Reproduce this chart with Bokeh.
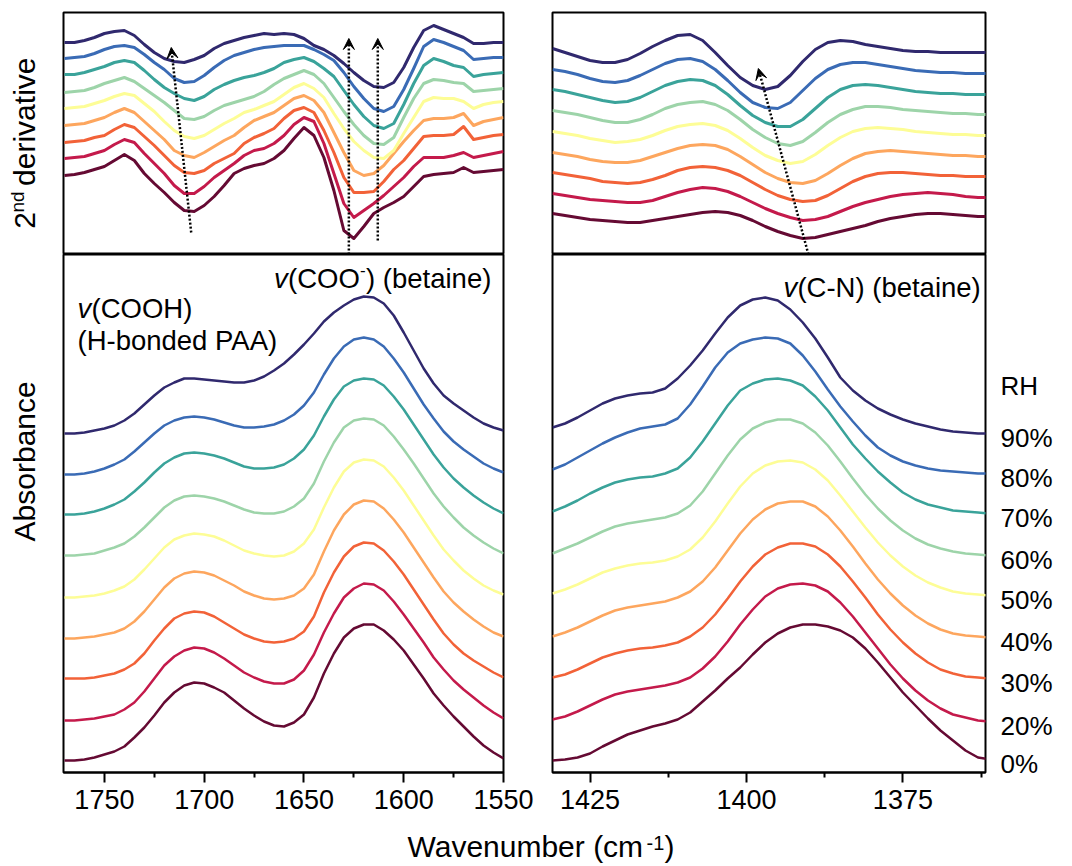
import math
from bokeh.plotting import figure
from bokeh.layouts import column, row
from bokeh.models import Range1d, FixedTicker, Arrow, VeeHead, LinearAxis, Label
from bokeh.embed import file_html
from bokeh.resources import INLINE
from bokeh.core.properties import value

FONT = "Liberation Sans"

RH_LABELS = ["0%", "20%", "30%", "40%", "50%", "60%", "70%", "80%", "90%"]
COLORS = ["#650a33", "#c41a4b", "#f26238", "#fda65e", "#fdfd96",
          "#9dd4a9", "#3aa39a", "#3a6bb5", "#30296e"]

# wavenumber grids (cm-1)
WN_LEFT = list(range(1770, 1549, -5))    # 1770 ... 1550
WN_RIGHT = list(range(1431, 1360, -2))   # 1431 ... 1361

# ---- 2nd derivative, 1770-1550 cm-1 (arb. units, stacked) ----
d2l_0 = [79, 80, 82, 85, 88, 94, 100, 94, 81, 71, 62, 52, 44, 43, 49, 58, 69, 81, 86, 89, 91, 96, 104, 116, 127, 119, 97, 64, 24, 16, 28, 41, 47, 52, 58, 68, 78, 80, 81, 82, 87, 82, 83, 84, 85]
d2l_20 = [96, 97, 98, 101, 104, 110, 115, 112, 101, 91, 81, 69, 61, 61, 68, 77, 84, 91, 99, 104, 106, 111, 119, 130, 137, 133, 111, 81, 51, 37, 44, 51, 59, 68, 77, 88, 97, 97, 97, 99, 102, 97, 99, 101, 103]
d2l_30 = [112, 113, 114, 117, 119, 125, 130, 127, 118, 109, 99, 89, 82, 81, 84, 91, 96, 101, 111, 117, 121, 126, 136, 144, 147, 142, 124, 102, 77, 62, 62, 63, 73, 85, 94, 106, 118, 119, 119, 120, 128, 115, 117, 119, 120]
d2l_40 = [129, 130, 131, 134, 137, 142, 146, 142, 133, 124, 115, 104, 99, 97, 102, 108, 114, 119, 127, 134, 138, 142, 149, 156, 159, 154, 142, 122, 102, 84, 79, 81, 89, 101, 113, 124, 134, 136, 136, 137, 141, 129, 133, 135, 137]
d2l_50 = [146, 147, 148, 151, 154, 158, 161, 159, 151, 143, 133, 124, 118, 116, 119, 125, 131, 136, 142, 145, 149, 153, 160, 167, 171, 166, 157, 141, 126, 113, 104, 97, 96, 104, 121, 137, 153, 157, 156, 156, 153, 146, 150, 152, 153]
d2l_60 = [162, 163, 164, 167, 171, 174, 177, 173, 166, 159, 152, 144, 136, 135, 138, 144, 149, 152, 155, 158, 163, 170, 176, 180, 184, 180, 171, 157, 143, 130, 119, 111, 110, 117, 137, 156, 171, 175, 174, 172, 171, 163, 164, 165, 166]
d2l_70 = [180, 180, 182, 185, 188, 192, 194, 192, 184, 175, 167, 161, 156, 154, 158, 165, 170, 174, 177, 179, 182, 186, 192, 195, 197, 193, 186, 178, 164, 150, 138, 129, 126, 131, 150, 171, 189, 196, 193, 189, 187, 178, 180, 181, 182]
d2l_80 = [196, 197, 198, 201, 205, 208, 209, 207, 200, 192, 185, 176, 172, 173, 179, 187, 194, 199, 202, 205, 207, 208, 209, 209, 209, 205, 200, 194, 182, 168, 156, 146, 143, 148, 165, 186, 208, 215, 212, 208, 204, 195, 196, 197, 197]
d2l_90 = [212, 212, 214, 217, 221, 223, 224, 219, 210, 202, 196, 193, 192, 195, 199, 206, 211, 214, 217, 219, 221, 220, 221, 220, 216, 209, 205, 199, 191, 182, 174, 168, 167, 172, 187, 207, 224, 229, 225, 221, 217, 211, 211, 212, 212]

# ---- 2nd derivative, 1431-1361 cm-1 ----
d2r_0 = [41, 39, 37, 35, 34, 33, 32, 32, 34, 36, 38, 40, 42, 43, 42, 39, 34, 28, 23, 19, 16, 17, 20, 23, 26, 29, 33, 36, 38, 40, 41, 41, 40, 39, 38, 38]
d2r_20 = [61, 59, 57, 55, 54, 53, 52, 52, 54, 58, 62, 65, 67, 66, 63, 58, 52, 46, 41, 37, 34, 35, 38, 43, 48, 52, 55, 58, 60, 61, 62, 61, 60, 58, 57, 57]
d2r_30 = [82, 80, 78, 76, 73, 72, 71, 72, 75, 79, 84, 87, 88, 87, 84, 79, 72, 65, 59, 55, 53, 54, 59, 66, 73, 78, 81, 82, 82, 81, 80, 79, 79, 78, 78, 78]
d2r_40 = [102, 100, 98, 95, 93, 92, 92, 94, 98, 102, 106, 109, 110, 109, 105, 98, 90, 82, 76, 72, 71, 74, 81, 89, 96, 101, 103, 104, 103, 102, 101, 100, 99, 99, 98, 98]
d2r_50 = [123, 121, 119, 116, 114, 112, 113, 115, 119, 124, 128, 130, 131, 129, 124, 116, 107, 99, 94, 91, 93, 100, 109, 117, 123, 126, 127, 126, 125, 123, 122, 121, 120, 120, 119, 119]
d2r_60 = [144, 142, 140, 137, 134, 132, 132, 135, 140, 146, 150, 152, 153, 150, 144, 135, 125, 117, 111, 109, 113, 122, 132, 140, 145, 148, 148, 147, 145, 144, 143, 142, 141, 141, 140, 140]
d2r_70 = [165, 163, 160, 157, 154, 152, 153, 157, 163, 169, 173, 175, 174, 169, 160, 149, 139, 132, 128, 128, 135, 146, 157, 165, 169, 170, 169, 167, 165, 163, 162, 161, 161, 160, 160, 160]
d2r_80 = [185, 183, 180, 176, 173, 172, 174, 179, 185, 191, 195, 196, 193, 185, 174, 162, 152, 147, 146, 152, 164, 176, 185, 190, 192, 192, 190, 188, 186, 184, 183, 182, 182, 181, 181, 181]
d2r_90 = [206, 202, 198, 194, 192, 192, 195, 201, 208, 214, 219, 220, 214, 202, 189, 177, 169, 165, 168, 179, 193, 205, 212, 214, 213, 210, 208, 206, 204, 203, 203, 202, 202, 202, 202, 202]

# ---- absorbance, 1770-1550 cm-1 (relative to each spectrum's start) ----
absl_0 = [0, 0, 1, 3, 6, 9, 14, 23, 33, 45, 58, 68, 75, 78, 77, 73, 68, 60, 52, 45, 39, 35, 34, 38, 46, 63, 87, 107, 123, 132, 136, 136, 130, 121, 110, 96, 82, 67, 55, 44, 34, 24, 15, 8, 2]
absl_20 = [0, 0, 1, 2, 4, 6, 11, 18, 29, 42, 55, 64, 70, 73, 72, 68, 62, 55, 48, 43, 39, 37, 37, 41, 50, 66, 88, 107, 123, 132, 137, 136, 130, 119, 106, 92, 78, 63, 51, 40, 31, 23, 15, 8, 2]
absl_30 = [0, 0, 0, 1, 3, 5, 9, 15, 25, 38, 50, 60, 65, 67, 66, 62, 56, 50, 44, 40, 37, 36, 37, 40, 47, 62, 86, 106, 122, 132, 136, 135, 128, 117, 104, 89, 74, 59, 45, 34, 25, 18, 12, 6, 1]
absl_40 = [0, 0, 1, 2, 4, 6, 10, 17, 27, 39, 51, 60, 65, 67, 66, 63, 58, 53, 47, 43, 40, 39, 40, 43, 50, 64, 87, 108, 124, 134, 138, 137, 130, 119, 106, 91, 76, 61, 47, 36, 27, 19, 12, 6, 2]
absl_50 = [0, 0, 1, 2, 4, 7, 11, 18, 28, 39, 50, 58, 62, 64, 63, 61, 57, 52, 47, 44, 42, 41, 42, 46, 54, 68, 90, 110, 126, 135, 138, 137, 131, 120, 107, 92, 77, 62, 48, 37, 27, 19, 12, 7, 3]
absl_60 = [0, 0, 1, 2, 5, 8, 12, 19, 28, 38, 48, 55, 59, 60, 59, 57, 54, 50, 46, 43, 42, 42, 44, 49, 57, 72, 94, 113, 128, 135, 137, 136, 130, 119, 106, 92, 77, 62, 49, 38, 28, 20, 13, 7, 2]
absl_70 = [0, 0, 1, 3, 6, 10, 15, 23, 32, 42, 51, 57, 61, 62, 61, 59, 56, 52, 48, 46, 46, 47, 50, 56, 65, 79, 98, 115, 128, 134, 136, 135, 129, 118, 105, 90, 75, 60, 47, 36, 27, 19, 12, 6, 1]
absl_80 = [0, 0, 1, 3, 6, 10, 15, 23, 32, 41, 49, 54, 57, 58, 57, 55, 52, 49, 47, 47, 48, 50, 54, 60, 69, 82, 100, 116, 128, 135, 137, 135, 128, 116, 102, 86, 70, 56, 43, 33, 25, 18, 11, 6, 2]
absl_90 = [0, 0, 1, 3, 5, 8, 13, 20, 29, 38, 46, 51, 55, 55, 54, 53, 52, 51, 51, 53, 57, 63, 70, 79, 89, 100, 112, 121, 128, 134, 137, 136, 130, 118, 101, 83, 65, 50, 38, 30, 23, 16, 10, 6, 3]

# ---- absorbance, 1431-1361 cm-1 (relative to each spectrum's start) ----
absr_0 = [0, 1, 3, 7, 14, 20, 26, 30, 34, 37, 41, 48, 59, 70, 82, 93, 106, 118, 127, 133, 136, 136, 134, 130, 123, 112, 98, 83, 68, 55, 42, 30, 20, 10, 3, 1]
absr_20 = [0, 3, 8, 14, 20, 25, 28, 30, 32, 34, 37, 42, 51, 63, 78, 95, 110, 123, 131, 135, 136, 134, 128, 117, 103, 87, 71, 55, 41, 29, 19, 11, 5, 2, -1, -2]
absr_30 = [0, 3, 8, 14, 20, 24, 27, 29, 30, 32, 35, 41, 50, 63, 79, 96, 111, 123, 130, 134, 134, 131, 123, 111, 96, 80, 63, 48, 35, 24, 15, 8, 4, 1, 0, -1]
absr_40 = [0, 4, 9, 15, 21, 26, 29, 31, 33, 35, 39, 45, 55, 69, 86, 103, 117, 127, 133, 135, 135, 130, 120, 106, 90, 73, 57, 43, 31, 21, 13, 7, 3, 1, 0, -1]
absr_50 = [0, 4, 9, 15, 21, 25, 28, 30, 31, 33, 37, 44, 56, 72, 90, 107, 120, 128, 132, 133, 131, 124, 113, 98, 82, 66, 51, 38, 27, 18, 11, 6, 2, 0, -1, -2]
absr_60 = [0, 5, 10, 16, 22, 27, 30, 32, 34, 36, 40, 48, 62, 80, 98, 114, 125, 131, 134, 134, 130, 121, 108, 92, 75, 59, 45, 33, 23, 15, 9, 5, 2, 0, -1, -2]
absr_70 = [0, 5, 11, 18, 24, 29, 32, 34, 35, 38, 43, 54, 70, 88, 106, 121, 128, 132, 133, 131, 126, 115, 101, 84, 67, 53, 40, 29, 19, 12, 7, 4, 1, 0, -1, -2]
absr_80 = [0, 5, 12, 19, 26, 32, 37, 41, 43, 45, 51, 65, 83, 102, 117, 126, 130, 132, 131, 126, 114, 98, 80, 63, 48, 34, 22, 14, 8, 4, 1, -1, -2, -3, -4, -4]
absr_90 = [0, 4, 10, 17, 24, 29, 32, 34, 35, 39, 49, 62, 77, 94, 110, 122, 128, 130, 127, 118, 105, 89, 70, 50, 37, 27, 19, 13, 8, 4, 1, -2, -4, -5, -6, -6]

# stacking offsets of the absorbance spectra
OFFSET_LEFT = [12, 52, 94, 134, 175, 217, 258, 298, 339]
OFFSET_RIGHT = [12, 53, 95, 136, 179, 219, 261, 303, 345]

# tick labels
TICKS_LEFT = [1750, 1700, 1650, 1600, 1550]
MINOR_LEFT = [1725, 1675, 1625, 1575]
TICKS_RIGHT = [1425, 1400, 1375]
MINOR_RIGHT = [1412.5, 1387.5, 1362.5]

# dotted guide arrows (x0, y0, x1, y1)
ARROWS_TL = [(1706.5, 22, 1716.5, 207), (1627.5, 0, 1627.5, 216), (1613, 14, 1613, 216)]
ARROWS_TR = [(1390.1, 0, 1398.1, 186)]

D2L = [d2l_0, d2l_20, d2l_30, d2l_40, d2l_50, d2l_60, d2l_70, d2l_80, d2l_90]
D2R = [d2r_0, d2r_20, d2r_30, d2r_40, d2r_50, d2r_60, d2r_70, d2r_80, d2r_90]
ABSL = [absl_0, absl_20, absl_30, absl_40, absl_50, absl_60, absl_70, absl_80, absl_90]
ABSR = [absr_0, absr_20, absr_30, absr_40, absr_50, absr_60, absr_70, absr_80, absr_90]

XL = (1770.5, 1550)
XR = (1431, 1361.8)


def make_fig(w, h, xr, yr, bl, br, bt, bb, outline=True):
    p = figure(width=w, height=h, x_range=Range1d(*xr), y_range=Range1d(*yr),
               output_backend="svg", toolbar_location=None,
               x_axis_location=None, y_axis_location=None,
               min_border_left=bl, min_border_right=br,
               min_border_top=bt, min_border_bottom=bb)
    p.outline_line_color = "black" if outline else None
    p.outline_line_width = 2
    p.background_fill_color = "white"
    p.border_fill_color = "white"
    for g in p.grid:
        g.visible = False
    return p


def style_axis(ax, size):
    ax.major_label_text_font = FONT
    ax.major_label_text_font_size = size
    ax.major_label_text_color = "black"


def add_axis(p, ticks, minor):
    ax = LinearAxis(ticker=FixedTicker(ticks=ticks, minor_ticks=minor))
    style_axis(ax, "27px")
    ax.major_tick_out = 10
    ax.major_tick_in = 0
    ax.minor_tick_out = 5
    ax.minor_tick_in = 0
    ax.major_tick_line_width = 2
    ax.minor_tick_line_width = 2
    ax.axis_line_width = 2
    ax.major_label_standoff = 7
    p.add_layout(ax, "below")


def lab(p, x, y, text, size, **kw):
    p.add_layout(Label(x=x, y=y, text=text, text_font=FONT, text_font_size=size,
                       text_color="black", **kw))


def txt(p, x, y, text, size, **kw):
    p.text(x=[x], y=[y], text=[text], text_font=value(FONT), text_font_size=size,
           text_color="black", **kw)


def arrows(p, lst):
    for (x0, y0, x1, y1) in lst:
        p.add_layout(Arrow(x_start=x0, y_start=y0, x_end=x1, y_end=y1,
                           line_color="black", line_width=2.5, line_dash="2 2",
                           end=VeeHead(size=11, fill_color="black", line_color="black",
                                       line_width=1)))


YL_W, LW_W, RW_W = 61, 474, 530
TOP_H, BOT_H, TITLE_H = 254, 566, 46

# y-label strips (pixel units)
p_yl1 = make_fig(YL_W, TOP_H, (0, YL_W), (0, TOP_H), 0, 0, 0, 0, outline=False)
txt(p_yl1, 24, 27, "2", "30px", angle=math.pi / 2, text_align="left", text_baseline="middle")
txt(p_yl1, 17, 44, "nd", "19px", angle=math.pi / 2, text_align="left", text_baseline="middle")
txt(p_yl1, 24, 72, "derivative", "30px", angle=math.pi / 2, text_align="left", text_baseline="middle")

p_yl2 = make_fig(YL_W, BOT_H, (0, YL_W), (0, BOT_H), 0, 0, 0, 0, outline=False)
txt(p_yl2, 24, 340, "Absorbance", "30px", angle=math.pi / 2, text_align="center", text_baseline="middle")

# top-left
p_tl = make_fig(LW_W, TOP_H, XL, (0, 242), 2, 32, 12, 0)
for ys, c in zip(D2L, COLORS):
    p_tl.line(WN_LEFT, ys, line_color=c, line_width=3, line_join="round")
arrows(p_tl, ARROWS_TL)

# top-right
p_tr = make_fig(RW_W, TOP_H, XR, (0, 242), 17, 80, 12, 0)
for ys, c in zip(D2R, COLORS):
    p_tr.line(WN_RIGHT, ys, line_color=c, line_width=3, line_join="round")
arrows(p_tr, ARROWS_TR)

# bottom-left
p_bl = make_fig(LW_W, BOT_H, XL, (0, 518), 2, 32, 0, 48)
add_axis(p_bl, TICKS_LEFT, MINOR_LEFT)
for ys, off, c in zip(ABSL, OFFSET_LEFT, COLORS):
    p_bl.line(WN_LEFT, [v + off for v in ys], line_color=c, line_width=2.5, line_join="round")
lab(p_bl, 1763.5, 464, "v", "27.5px", text_font_style="italic", text_baseline="middle")
lab(p_bl, 1763.5, 464, "(COOH)", "27.5px", x_offset=14, text_baseline="middle")
lab(p_bl, 1763.5, 432, "(H-bonded PAA)", "27.5px", text_baseline="middle")
lab(p_bl, 1665, 494, "v", "27.5px", text_font_style="italic", text_baseline="middle")
lab(p_bl, 1665, 494, "(COO", "27.5px", x_offset=14, text_baseline="middle")
lab(p_bl, 1665, 494, "-", "17px", x_offset=86, y_offset=9, text_baseline="middle")
lab(p_bl, 1665, 494, ") (betaine)", "27.5px", x_offset=92, text_baseline="middle")

# bottom-right
p_br = make_fig(RW_W, BOT_H, XR, (0, 518), 17, 80, 0, 48)
add_axis(p_br, TICKS_RIGHT, MINOR_RIGHT)
for ys, off, c in zip(ABSR, OFFSET_RIGHT, COLORS):
    p_br.line(WN_RIGHT, [v + off for v in ys], line_color=c, line_width=2.5, line_join="round")
lab(p_br, 1394.1, 485, "v", "27.5px", text_font_style="italic", text_baseline="middle")
lab(p_br, 1394.1, 485, "(C-N) (betaine)", "27.5px", x_offset=14, text_baseline="middle")

# RH legend as a right axis whose ticks sit at each spectrum's end
rh_ticks = [float(ys[-1] + off - 4) for ys, off in zip(ABSR, OFFSET_RIGHT)]
rh_top = rh_ticks[-1] + 52.0
rax = LinearAxis(ticker=FixedTicker(ticks=rh_ticks + [rh_top], minor_ticks=[]))
overrides = {t: s for t, s in zip(rh_ticks, RH_LABELS)}
overrides[rh_top] = "RH"
rax.major_label_overrides = overrides
style_axis(rax, "26px")
rax.axis_line_color = None
rax.major_tick_line_color = None
rax.minor_tick_line_color = None
rax.major_tick_out = 0
rax.major_tick_in = 0
rax.major_label_standoff = 15
p_br.add_layout(rax, "right")

# x-axis title strip (pixel units)
TW = YL_W + LW_W + RW_W
p_t = make_fig(TW, TITLE_H, (0, TW), (0, TITLE_H), 0, 0, 0, 0, outline=False)
txt(p_t, 407, 20, "Wavenumber (cm", "30px", text_baseline="middle", text_align="left")
txt(p_t, 646, 24, "-1", "20px", text_baseline="middle", text_align="left")
txt(p_t, 664, 20, ")", "30px", text_baseline="middle", text_align="left")

layout = column(row(p_yl1, p_tl, p_tr), row(p_yl2, p_bl, p_br), p_t)
open("out.html", "w").write(file_html(layout, INLINE))
